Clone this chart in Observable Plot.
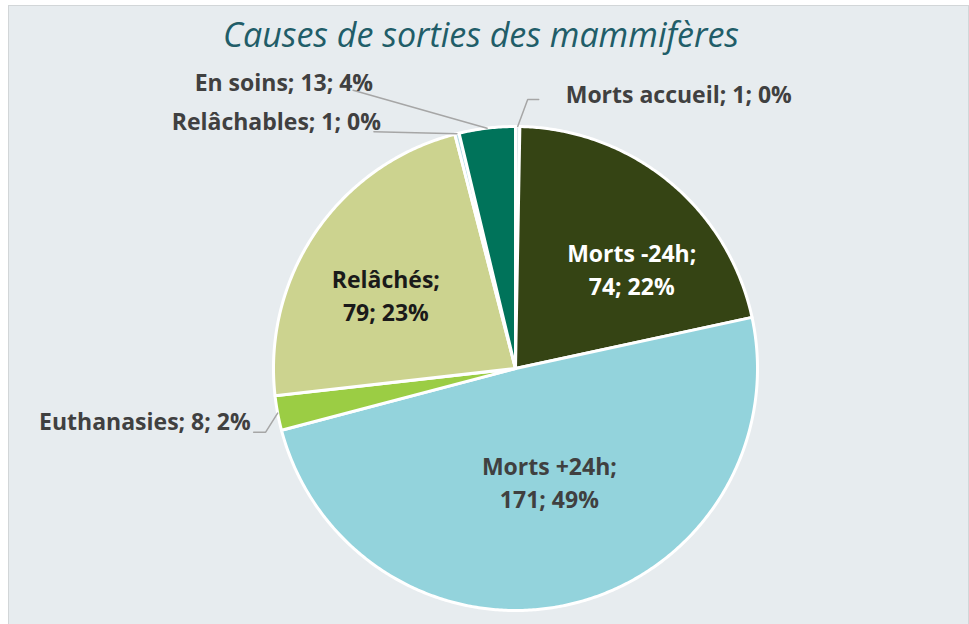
<!DOCTYPE html>
<html><head><meta charset="utf-8">
<script src="https://cdn.jsdelivr.net/npm/d3@7"></script>
<script src="https://cdn.jsdelivr.net/npm/@observablehq/plot@0.6"></script>
<style>
body{margin:0;background:#fff;}
#wrap{position:relative;width:969px;height:624px;overflow:hidden;background:#fff;}
#frame{position:absolute;left:8px;top:5px;width:959px;height:640px;background:#E7ECEF;border-left:1.5px solid #d2d6d8;border-top:1.5px solid #d2d6d8;border-right:1px solid #d2d6d8;}
#title{position:absolute;left:0;width:962px;top:11px;line-height:normal;text-align:center;font:italic 34px "Open Sans", sans-serif;color:#215D68;}
#chart{position:absolute;left:0;top:0;}
</style></head>
<body><div id="wrap"><div id="frame"></div><div id="title">Causes de sorties des mammifères</div><div id="chart"></div></div>
<script>
// ---- data ----
const categories = ["Morts accueil","Morts -24h","Morts +24h","Euthanasies","Relâchés","Relâchables","En soins"];
const counts     = [1, 74, 171, 8, 79, 1, 13];
const percents   = ["0%","22%","49%","2%","23%","0%","4%"];
const colors     = ["#DDE7EA","#354414","#93D3DC","#9BCD44","#CCD38F","#B5DCE6","#00735A"];

// ---- label styling (offsets in px) ----
const insideLabels = {
  "Morts -24h": {r:0.6, dx:24, dy:12, fill:"#ffffff"},
  "Morts +24h": {r:0.6, dx:0, dy:-29, fill:"#404040"},
  "Relâchés":   {r:0.6, dx:-10, dy:8, fill:"#1a1a1a"}
};
const outsideLabels = {
  "Morts accueil": {dx:48, dy:-31, anchor:"start", leader:[[10,-27],[21,-27]]},
  "En soins":      {dx:-114, dy:-45, anchor:"end", leader:[[-134,-38]]},
  "Relâchables":   {dx:-76, dy:-11, anchor:"end", leader:[[-83,-2]]},
  "Euthanasies":   {dx:-27, dy:9, anchor:"end", leader:[[-12,19],[-24,19]]}
};

const R = 242; // pixel radius, used to convert px offsets into data units
const rows = categories.map((name,i)=>({name, count:counts[i], pct:percents[i]}));
const arcs = d3.pie().sort(null).value(d=>d.count)(rows);

// slice outlines in unit-circle coordinates (angle measured clockwise from top)
const slicePts = [];
for (const a of arcs) {
  slicePts.push({name:a.data.name, x:0, y:0});
  const n = Math.max(2, Math.ceil((a.endAngle-a.startAngle)/(Math.PI/360)));
  for (let k=0;k<=n;k++){
    const t = a.startAngle + (a.endAngle-a.startAngle)*k/n;
    slicePts.push({name:a.data.name, x:Math.sin(t), y:Math.cos(t)});
  }
}

const inner = [], outer = [], leaders = [];
for (const a of arcs) {
  const mid = (a.startAngle+a.endAngle)/2;
  const name = a.data.name;
  if (insideLabels[name]) {
    const s = insideLabels[name];
    inner.push({name, x:s.r*Math.sin(mid), y:s.r*Math.cos(mid), dx:s.dx, dy:s.dy, fill:s.fill,
                text:`${name};\n${a.data.count}; ${a.data.pct}`});
  } else if (outsideLabels[name]) {
    const s = outsideLabels[name];
    const ex = Math.sin(mid), ey = Math.cos(mid);
    outer.push({name, x:ex, y:ey, dx:s.dx, dy:s.dy, anchor:s.anchor,
                text:`${name}; ${a.data.count}; ${a.data.pct}`});
    leaders.push({name, x:ex, y:ey});
    for (const [ox,oy] of s.leader) leaders.push({name, x:ex+ox/R, y:ey-oy/R});
  }
}

const font = "'Open Sans', sans-serif";
const marks = [
  Plot.line(slicePts, {x:"x", y:"y", z:"name", fill:"name", stroke:"#ffffff", strokeWidth:3,
    strokeLinejoin:"round", curve:"linear-closed"}),
  Plot.line(leaders, {x:"x", y:"y", z:"name", stroke:"#a6a6a6", strokeWidth:1.5})
];
for (const d of inner) {
  marks.push(Plot.text([d], {x:"x", y:"y", text:"text", dx:d.dx, dy:d.dy, fill:d.fill,
    fontSize:23, fontWeight:"bold", lineHeight:1.43, fontFamily:font}));
}
for (const d of outer) {
  marks.push(Plot.text([d], {x:"x", y:"y", text:"text", dx:d.dx, dy:d.dy, textAnchor:d.anchor,
    fill:"#404040", fontSize:23, fontWeight:"bold", fontFamily:font}));
}

const chart = Plot.plot({
  width:969, height:624,
  margin:0,
  style:{background:"transparent", overflow:"visible"},
  x:{domain:[-1,1], range:[515-R, 515+R], axis:null},
  y:{domain:[-1,1], range:[368+R, 368-R], axis:null},
  color:{type:"ordinal", domain:categories, range:colors},
  marks
});
document.getElementById("chart").appendChild(chart);
</script>
</body></html>
